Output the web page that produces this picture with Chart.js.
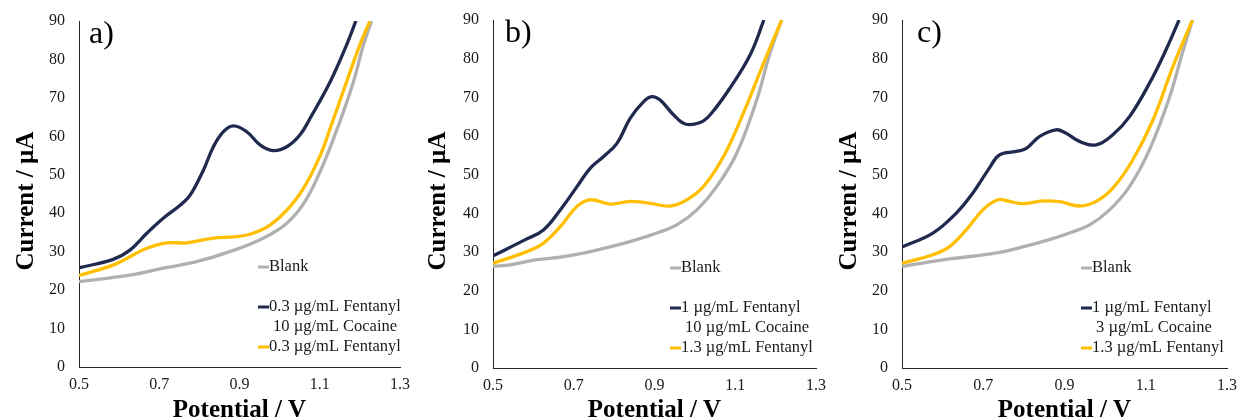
<!DOCTYPE html>
<html>
<head>
<meta charset="utf-8">
<script src="https://cdn.jsdelivr.net/npm/chart.js@4/dist/chart.umd.min.js"></script>
<style>
  html, body { margin: 0; padding: 0; background: #ffffff; }
  #wrap { position: relative; width: 1243px; height: 419px; overflow: hidden; }
  #wrap canvas { position: absolute; top: 0; }
</style>
</head>
<body>
<div id="wrap">
  <canvas id="panelA" width="410" height="419" style="left:0px"></canvas>
  <canvas id="panelB" width="425" height="419" style="left:410px"></canvas>
  <canvas id="panelC" width="420" height="419" style="left:823px"></canvas>
</div>
<script>
// Axis ticks shared by the three panels
const potentialTicks = [0.5, 0.7, 0.9, 1.1, 1.3];
const currentTicks = [0, 10, 20, 30, 40, 50, 60, 70, 80, 90];

// Legend labels
const blankLabel = ['Blank'];
const mixLabelA = ['0.3 µg/mL Fentanyl', '10 µg/mL Cocaine'];
const fentLabelA = ['0.3 µg/mL Fentanyl'];
const mixLabelB = ['1 µg/mL Fentanyl', '10 µg/mL Cocaine'];
const fentLabelB = ['1.3 µg/mL Fentanyl'];
const mixLabelC = ['1 µg/mL Fentanyl', '3 µg/mL Cocaine'];
const fentLabelC = ['1.3 µg/mL Fentanyl'];

// a) potential (V) and current (µA)
const mixA_V = [0.50, 0.585, 0.627, 0.669, 0.71, 0.752, 0.777, 0.81, 0.835, 0.86, 0.885, 0.918, 0.951, 0.984, 1.018, 1.051, 1.076, 1.126, 1.167, 1.19];
const mixA_I = [25.8, 28.0, 30.4, 34.8, 38.7, 42.1, 44.7, 51.2, 57.3, 61.2, 62.7, 61.2, 57.8, 56.3, 57.3, 60.4, 64.7, 74.2, 83.8, 90.0];
const fentA_V = [0.50, 0.585, 0.627, 0.669, 0.719, 0.768, 0.835, 0.893, 0.934, 0.976, 1.018, 1.059, 1.101, 1.126, 1.167, 1.200, 1.225];
const fentA_I = [23.8, 26.5, 28.7, 30.9, 32.3, 32.3, 33.5, 33.9, 34.8, 36.9, 40.8, 46.4, 55.0, 62.1, 74.2, 83.8, 90.0];
const blankA_V = [0.50, 0.627, 0.71, 0.793, 0.876, 0.959, 1.018, 1.063, 1.105, 1.150, 1.184, 1.209, 1.229];
const blankA_I = [22.2, 23.9, 25.7, 27.4, 30.0, 33.5, 37.4, 43.0, 51.8, 63.8, 74.2, 83.8, 90.0];

// b)
const mixB_V = [0.50, 0.58, 0.625, 0.667, 0.708, 0.741, 0.774, 0.807, 0.84, 0.873, 0.893, 0.914, 0.947, 0.976, 1.013, 1.038, 1.087, 1.137, 1.171];
const mixB_I = [29.0, 33.2, 35.7, 40.9, 46.9, 51.7, 54.7, 58.1, 64.6, 68.9, 70.2, 69.3, 65.5, 63.1, 63.5, 65.5, 72.4, 81.0, 90.0];
const fentB_V = [0.50, 0.584, 0.625, 0.667, 0.708, 0.741, 0.79, 0.84, 0.889, 0.939, 0.98, 1.021, 1.071, 1.12, 1.17, 1.215];
const fentB_I = [27.1, 30.1, 32.3, 36.6, 41.8, 43.5, 42.4, 43.1, 42.6, 41.9, 43.5, 46.9, 54.7, 65.9, 78.8, 90.0];
const blankB_V = [0.50, 0.543, 0.609, 0.667, 0.724, 0.79, 0.856, 0.906, 0.955, 1.005, 1.054, 1.104, 1.153, 1.186, 1.215];
const blankB_I = [26.3, 26.7, 28.0, 28.7, 29.7, 31.3, 33.2, 34.9, 37.0, 40.9, 46.9, 55.6, 69.3, 81.4, 90.0];

// c)
const mixC_V = [0.50, 0.576, 0.633, 0.674, 0.715, 0.74, 0.781, 0.806, 0.839, 0.879, 0.904, 0.937, 0.978, 1.019, 1.06, 1.109, 1.15, 1.182];
const mixC_I = [31.3, 34.9, 40.0, 45.2, 51.7, 55.1, 56.0, 56.8, 59.9, 61.6, 60.7, 58.6, 57.7, 60.3, 65.0, 73.6, 82.3, 90.0];
const fentC_V = [0.50, 0.576, 0.617, 0.658, 0.699, 0.736, 0.764, 0.797, 0.847, 0.888, 0.937, 0.978, 1.019, 1.068, 1.118, 1.167, 1.215];
const fentC_I = [27.1, 29.3, 31.4, 35.7, 40.9, 43.5, 43.1, 42.5, 43.2, 43.0, 41.9, 43.1, 46.5, 53.8, 64.2, 78.0, 90.0];
const blankC_V = [0.50, 0.617, 0.674, 0.74, 0.797, 0.863, 0.912, 0.962, 1.011, 1.06, 1.109, 1.159, 1.19, 1.215];
const blankC_I = [26.3, 28.2, 28.9, 29.9, 31.3, 33.2, 34.9, 37.0, 40.9, 46.9, 56.4, 70.2, 81.4, 90.0];

const NAVY = '#1f2a4e';
const GOLD = '#ffbf00';
const GREY = '#b0b0b0';
const INK = '#1a1a1a';
const SERIF = '"Liberation Serif", "Times New Roman", serif';

const pair = (xs, ys) => xs.map((x, i) => ({ x: x, y: ys[i] }));

function series(label, xs, ys, color, order) {
  return {
    label: label,
    data: pair(xs, ys),
    borderColor: color,
    backgroundColor: color,
    borderWidth: 3.3,
    pointRadius: 0,
    tension: 0.4,
    fill: false,
    order: order
  };
}

// Panel letter, vertical axis title and the in-plot legend (Blank, mixture, fentanyl)
const panelDecor = {
  id: 'panelDecor',
  afterDatasetsDraw(chart, args, opts) {
    const { ctx, chartArea } = chart;
    ctx.save();
    ctx.fillStyle = '#000';
    ctx.font = '32px ' + SERIF;
    ctx.textAlign = 'left';
    ctx.textBaseline = 'alphabetic';
    ctx.fillText(opts.tag, chartArea.left + opts.tagDx, chartArea.top + 22);

    // vertical axis title, reading bottom to top
    ctx.save();
    ctx.translate(opts.yTitleBase, (chartArea.top + chartArea.bottom) / 2 + 7);
    ctx.rotate(-Math.PI / 2);
    ctx.font = 'bold 25px ' + SERIF;
    ctx.textAlign = 'center';
    ctx.textBaseline = 'alphabetic';
    ctx.fillText('Current / µA', 0, 0);
    ctx.restore();

    ctx.font = '16.5px ' + SERIF;
    ctx.textAlign = 'left';
    ctx.textBaseline = 'middle';
    ctx.fillStyle = INK;
    const x0 = chartArea.left + opts.legendDx;
    chart.data.datasets.forEach((ds, i) => {
      const y = chartArea.bottom - opts.legendRows[i];
      ctx.strokeStyle = ds.borderColor;
      ctx.lineWidth = 3;
      ctx.beginPath();
      ctx.moveTo(x0, y);
      ctx.lineTo(x0 + 11, y);
      ctx.stroke();
      ds.label.forEach((line, k) => {
        ctx.fillText(line, x0 + 11 + (k > 0 ? 4 : 0), y + k * 20);
      });
    });
    ctx.restore();
  }
};

function makePanel(id, tag, sets, box) {
  new Chart(document.getElementById(id), {
    type: 'line',
    data: { datasets: sets },
    options: {
      responsive: false,
      animation: false,
      devicePixelRatio: 1,
      layout: { padding: { left: 0, top: box.top, right: box.right, bottom: 0 } },
      plugins: {
        legend: { display: false },
        tooltip: { enabled: false },
        panelDecor: {
          tag: tag,
          tagDx: box.tagDx,
          legendDx: box.legendDx,
          legendRows: [100, 60, 20],
          yTitleBase: box.yTitleBase
        }
      },
      scales: {
        x: {
          type: 'linear',
          min: potentialTicks[0],
          max: potentialTicks[potentialTicks.length - 1],
          afterBuildTicks: (s) => { s.ticks = potentialTicks.map(v => ({ value: v })); },
          afterFit: (s) => { s.height = box.xHeight; s.paddingLeft = 0; s.paddingRight = 0; },
          grid: { display: false, drawTicks: false },
          border: { display: true, color: '#262626', width: 1 },
          ticks: {
            padding: 8,
            maxRotation: 0,
            autoSkip: false,
            color: INK,
            font: { family: SERIF, size: 16 },
            callback: (v) => Number(v).toFixed(1)
          },
          title: {
            display: true,
            text: 'Potential / V',
            color: '#000',
            padding: { top: 0, bottom: box.xTitleOff - 8.75 },
            font: { family: SERIF, size: 25, weight: 'bold', lineHeight: 0.7 }
          }
        },
        y: {
          type: 'linear',
          min: currentTicks[0],
          max: currentTicks[currentTicks.length - 1],
          afterBuildTicks: (s) => { s.ticks = currentTicks.map(v => ({ value: v })); },
          afterFit: (s) => { s.width = box.yWidth; s.paddingTop = 0; s.paddingBottom = 0; },
          grid: { display: false, drawTicks: false },
          border: { display: true, color: '#262626', width: 1 },
          ticks: {
            padding: 14,
            color: INK,
            font: { family: SERIF, size: 16 }
          },
          title: { display: false }
        }
      }
    },
    plugins: [panelDecor]
  });
}

makePanel('panelA', 'a)', [
  series(blankLabel, blankA_V, blankA_I, GREY, 2),
  series(mixLabelA, mixA_V, mixA_I, NAVY, 1),
  series(fentLabelA, fentA_V, fentA_I, GOLD, 0)
], { top: 21, right: 10, yWidth: 79, xHeight: 52, tagDx: 10, legendDx: 179, xTitleOff: 8, yTitleBase: 33 });

makePanel('panelB', 'b)', [
  series(blankLabel, blankB_V, blankB_I, GREY, 2),
  series(mixLabelB, mixB_V, mixB_I, NAVY, 1),
  series(fentLabelB, fentB_V, fentB_I, GOLD, 0)
], { top: 20, right: 19, yWidth: 83, xHeight: 51, tagDx: 12, legendDx: 177, xTitleOff: 8, yTitleBase: 35 });

makePanel('panelC', 'c)', [
  series(blankLabel, blankC_V, blankC_I, GREY, 2),
  series(mixLabelC, mixC_V, mixC_I, NAVY, 1),
  series(fentLabelC, fentC_V, fentC_I, GOLD, 0)
], { top: 20, right: 16, yWidth: 79, xHeight: 51, tagDx: 15, legendDx: 179, xTitleOff: 8, yTitleBase: 33 });
</script>
</body>
</html>
